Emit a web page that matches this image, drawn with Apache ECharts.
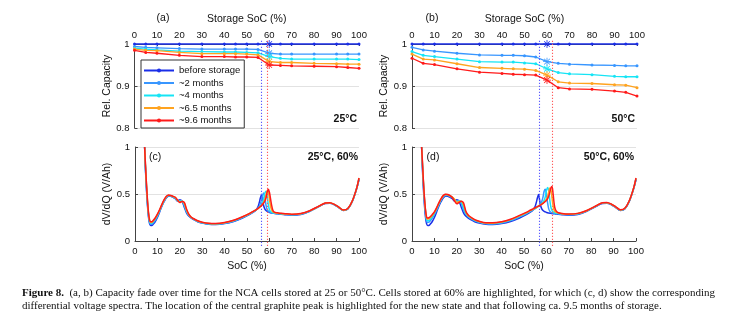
<!DOCTYPE html>
<html><head><meta charset="utf-8">
<script src="https://cdn.jsdelivr.net/npm/echarts@6/dist/echarts.min.js"></script>
<style>html,body{margin:0;padding:0;background:#fff}#c{width:738px;height:332px}</style>
</head><body><div id="c"></div>
<script>
// ---------- data ----------
const seriesNames = ['before storage', '~2 months', '~4 months', '~6.5 months', '~9.6 months'];
const storageSoc = [0, 5, 10, 20, 30, 40, 45, 50, 55, 60, 65, 70, 80, 90, 95, 100];
const highlightSoc = 60;

// (a) 25°C relative capacity
const capA_before = [1, 1, 1, 1, 1, 1, 1, 1, 1, 1, 1, 1, 1, 1, 1, 1];
const capA_2m = [0.994, 0.992, 0.991, 0.989, 0.988, 0.988, 0.988, 0.988, 0.987, 0.978, 0.976, 0.976, 0.976, 0.976, 0.976, 0.976];
const capA_4m = [0.990, 0.988, 0.986, 0.983, 0.982, 0.981, 0.981, 0.980, 0.979, 0.970, 0.966, 0.964, 0.964, 0.964, 0.964, 0.963];
const capA_6m = [0.988, 0.985, 0.984, 0.980, 0.977, 0.977, 0.977, 0.976, 0.974, 0.958, 0.956, 0.956, 0.954, 0.953, 0.952, 0.952];
const capA_9m = [0.985, 0.980, 0.978, 0.973, 0.970, 0.970, 0.969, 0.969, 0.968, 0.950, 0.949, 0.948, 0.947, 0.946, 0.944, 0.942];

// (b) 50°C relative capacity
const capB_before = [1, 1, 1, 1, 1, 1, 1, 1, 1, 1, 1, 1, 1, 1, 1, 1];
const capB_2m = [0.992, 0.986, 0.983, 0.978, 0.974, 0.973, 0.973, 0.972, 0.969, 0.958, 0.954, 0.952, 0.950, 0.949, 0.948, 0.948];
const capB_4m = [0.982, 0.973, 0.970, 0.964, 0.958, 0.957, 0.957, 0.955, 0.953, 0.941, 0.932, 0.929, 0.927, 0.923, 0.922, 0.922];
const capB_6m = [0.976, 0.964, 0.962, 0.953, 0.944, 0.942, 0.941, 0.940, 0.937, 0.926, 0.910, 0.907, 0.906, 0.903, 0.902, 0.896];
const capB_9m = [0.966, 0.954, 0.951, 0.941, 0.933, 0.930, 0.928, 0.927, 0.926, 0.914, 0.896, 0.893, 0.892, 0.888, 0.885, 0.876];

// (c, d) dV/dQ spectra, SoC grid
const socGrid = [4.3, 4.6, 5, 5.5, 6, 6.5, 7, 7.5, 8,
  9, 10, 11, 12, 13, 14, 15, 16, 17, 18, 19, 20, 21, 22, 23, 24, 25, 26,
  28, 30, 33, 36, 40, 44, 48, 51, 53, 54,
  55, 55.5, 56, 56.5, 57, 57.5, 58, 58.5, 59, 59.5, 60, 60.5, 61, 61.5, 62, 62.5, 63, 63.5, 64,
  65, 67, 70, 74, 78, 82, 85, 87, 89, 91, 93, 95, 97, 99, 100];

const dvdq_before = [1.0, 0.8, 0.6, 0.4, 0.26, 0.185, 0.165, 0.165, 0.175,
  0.205, 0.25, 0.31, 0.37, 0.42, 0.46, 0.48, 0.475, 0.465, 0.45, 0.425, 0.44, 0.425, 0.36, 0.3, 0.265, 0.245, 0.23,
  0.205, 0.19, 0.178, 0.176, 0.185, 0.208, 0.245, 0.28, 0.31, 0.33,
  0.37, 0.41, 0.46, 0.495, 0.43, 0.37, 0.34, 0.325, 0.315, 0.31, 0.305, 0.3, 0.298, 0.296, 0.294, 0.292, 0.29, 0.289, 0.288,
  0.285, 0.28, 0.275, 0.283, 0.315, 0.365, 0.4, 0.402, 0.385, 0.355, 0.325, 0.34, 0.42, 0.56, 0.65];

const dvdqC_2m = [1.0, 0.81, 0.62, 0.42, 0.28, 0.2, 0.178, 0.178, 0.188,
  0.218, 0.262, 0.318, 0.375, 0.425, 0.465, 0.483, 0.478, 0.468, 0.455, 0.428, 0.432, 0.428, 0.375, 0.31, 0.272, 0.25, 0.235,
  0.208, 0.193, 0.181, 0.179, 0.188, 0.211, 0.249, 0.284, 0.312, 0.328,
  0.35, 0.37, 0.4, 0.44, 0.49, 0.51, 0.46, 0.38, 0.335, 0.318, 0.31, 0.304, 0.3, 0.298, 0.296, 0.294, 0.292, 0.291, 0.29,
  0.287, 0.282, 0.278, 0.286, 0.317, 0.367, 0.402, 0.404, 0.387, 0.357, 0.327, 0.342, 0.422, 0.562, 0.66];

const dvdqC_4m = [1.0, 0.82, 0.63, 0.43, 0.29, 0.21, 0.188, 0.19, 0.2,
  0.23, 0.272, 0.325, 0.38, 0.43, 0.468, 0.485, 0.48, 0.47, 0.458, 0.43, 0.425, 0.425, 0.39, 0.32, 0.278, 0.252, 0.237,
  0.21, 0.195, 0.184, 0.182, 0.191, 0.215, 0.253, 0.288, 0.315, 0.33,
  0.348, 0.36, 0.375, 0.395, 0.42, 0.46, 0.51, 0.53, 0.48, 0.39, 0.335, 0.315, 0.306, 0.301, 0.298, 0.296, 0.294, 0.293, 0.292,
  0.29, 0.285, 0.28, 0.288, 0.319, 0.368, 0.403, 0.405, 0.388, 0.358, 0.328, 0.343, 0.423, 0.563, 0.665];

const dvdqC_6m = [1.0, 0.84, 0.65, 0.45, 0.3, 0.218, 0.198, 0.198, 0.208,
  0.238, 0.28, 0.33, 0.385, 0.435, 0.472, 0.488, 0.483, 0.473, 0.462, 0.432, 0.415, 0.422, 0.4, 0.33, 0.282, 0.254, 0.239,
  0.213, 0.198, 0.186, 0.184, 0.194, 0.218, 0.256, 0.29, 0.317, 0.331,
  0.347, 0.357, 0.368, 0.38, 0.395, 0.415, 0.445, 0.49, 0.535, 0.53, 0.45, 0.37, 0.33, 0.312, 0.304, 0.3, 0.298, 0.296, 0.295,
  0.292, 0.288, 0.283, 0.29, 0.32, 0.369, 0.404, 0.407, 0.389, 0.359, 0.329, 0.344, 0.424, 0.564, 0.668];

const dvdqC_9m = [1.0, 0.85, 0.66, 0.46, 0.31, 0.225, 0.205, 0.205, 0.215,
  0.245, 0.285, 0.335, 0.39, 0.44, 0.475, 0.49, 0.485, 0.475, 0.465, 0.435, 0.41, 0.42, 0.41, 0.34, 0.285, 0.255, 0.24,
  0.215, 0.2, 0.188, 0.186, 0.196, 0.22, 0.258, 0.292, 0.318, 0.332,
  0.348, 0.357, 0.367, 0.378, 0.39, 0.405, 0.425, 0.46, 0.52, 0.55, 0.52, 0.45, 0.38, 0.33, 0.312, 0.305, 0.302, 0.3, 0.298,
  0.295, 0.29, 0.285, 0.292, 0.322, 0.37, 0.405, 0.408, 0.39, 0.36, 0.33, 0.345, 0.425, 0.565, 0.67];

const dvdqD_2m = [1.0, 0.83, 0.64, 0.44, 0.3, 0.215, 0.198, 0.2, 0.21,
  0.24, 0.28, 0.33, 0.385, 0.435, 0.47, 0.487, 0.483, 0.472, 0.46, 0.435, 0.425, 0.43, 0.4, 0.33, 0.285, 0.258, 0.242,
  0.214, 0.198, 0.184, 0.182, 0.192, 0.217, 0.256, 0.29, 0.316, 0.33,
  0.345, 0.353, 0.362, 0.372, 0.385, 0.4, 0.425, 0.47, 0.53, 0.55, 0.5, 0.41, 0.345, 0.318, 0.306, 0.3, 0.297, 0.295, 0.293,
  0.29, 0.284, 0.28, 0.288, 0.318, 0.368, 0.403, 0.405, 0.388, 0.358, 0.328, 0.343, 0.423, 0.563, 0.66];

const dvdqD_4m = [1.0, 0.85, 0.66, 0.46, 0.32, 0.232, 0.215, 0.217, 0.228,
  0.256, 0.294, 0.34, 0.392, 0.44, 0.475, 0.492, 0.49, 0.478, 0.466, 0.44, 0.415, 0.425, 0.415, 0.355, 0.295, 0.265, 0.248,
  0.22, 0.203, 0.188, 0.186, 0.197, 0.222, 0.262, 0.295, 0.32, 0.333,
  0.347, 0.354, 0.362, 0.37, 0.378, 0.387, 0.398, 0.412, 0.432, 0.47, 0.535, 0.57, 0.54, 0.44, 0.36, 0.325, 0.31, 0.303, 0.299,
  0.295, 0.288, 0.283, 0.29, 0.32, 0.37, 0.405, 0.407, 0.39, 0.36, 0.33, 0.345, 0.425, 0.565, 0.663];

const dvdqD_6m = [1.0, 0.86, 0.67, 0.47, 0.33, 0.245, 0.235, 0.237, 0.245,
  0.27, 0.305, 0.35, 0.4, 0.447, 0.48, 0.495, 0.492, 0.48, 0.468, 0.445, 0.41, 0.42, 0.422, 0.385, 0.31, 0.272, 0.253,
  0.224, 0.206, 0.191, 0.19, 0.201, 0.227, 0.267, 0.3, 0.325, 0.337,
  0.35, 0.357, 0.364, 0.371, 0.378, 0.386, 0.394, 0.403, 0.414, 0.427, 0.445, 0.47, 0.52, 0.565, 0.55, 0.46, 0.37, 0.325, 0.31,
  0.3, 0.291, 0.285, 0.292, 0.322, 0.371, 0.406, 0.408, 0.391, 0.361, 0.331, 0.346, 0.426, 0.566, 0.666];

const dvdqD_9m = [1.0, 0.87, 0.68, 0.48, 0.34, 0.255, 0.245, 0.247, 0.255,
  0.28, 0.31, 0.355, 0.405, 0.452, 0.485, 0.498, 0.494, 0.482, 0.462, 0.425, 0.395, 0.41, 0.422, 0.405, 0.32, 0.28, 0.258,
  0.228, 0.21, 0.194, 0.193, 0.205, 0.232, 0.272, 0.305, 0.33, 0.342,
  0.354, 0.36, 0.366, 0.372, 0.378, 0.385, 0.392, 0.4, 0.41, 0.42, 0.432, 0.448, 0.475, 0.515, 0.565, 0.58, 0.5, 0.39, 0.335,
  0.305, 0.293, 0.287, 0.294, 0.324, 0.372, 0.407, 0.41, 0.393, 0.363, 0.333, 0.348, 0.428, 0.568, 0.67];

// graphite peak markers (SoC %)
const peakNew = 56.6;
const peak25 = 59.3;
const peak50 = 62.5;

// ---------- styling ----------
const colors = ['#1a2ee8', '#3896ff', '#16e4f5', '#ffa31f', '#ff1a1a'];
const FONT = 'Liberation Sans, Arial, sans-serif';
const SERIF = 'Liberation Serif, Times New Roman, serif';
const axisColor = '#444';
const gridColor = '#e2e2e2';
const star = 'path://M9,0h2v20h-2z M0,9h20v2h-20z M2.2,3.6l1.4,-1.4l14.2,14.2l-1.4,1.4z M17.8,3.6l-1.4,-1.4l-14.2,14.2l1.4,1.4z';

const capsA = [capA_before, capA_2m, capA_4m, capA_6m, capA_9m];
const capsB = [capB_before, capB_2m, capB_4m, capB_6m, capB_9m];
const dvC = [dvdq_before, dvdqC_2m, dvdqC_4m, dvdqC_6m, dvdqC_9m];
const dvD = [dvdq_before, dvdqD_2m, dvdqD_4m, dvdqD_6m, dvdqD_9m];

const L = {a: [134.5, 44, 224.5, 84], b: [412, 44, 225, 84], c: [135, 147, 224, 94], d: [412, 147, 224, 94]};
function grid(r) { return {left: r[0], top: r[1], width: r[2], height: r[3], containLabel: false}; }

const grids = [grid(L.a), grid(L.b), grid(L.c), grid(L.d),
  {left: L.a[0], top: 39, width: L.a[2], height: 207}, {left: L.b[0], top: 39, width: L.b[2], height: 207}];

const lbl = {fontFamily: FONT, fontSize: 9.5, color: '#111'};
const nameSt = {fontFamily: FONT, fontSize: 10.5, color: '#111'};

function xTop(gi) {
  return {type: 'value', gridIndex: gi, position: 'top', min: 0, max: 100, interval: 10,
    name: 'Storage SoC (%)', nameLocation: 'middle', nameGap: 19, nameTextStyle: nameSt,
    axisLine: {show: true, lineStyle: {color: axisColor}}, axisTick: {show: true, inside: true, length: 2, lineStyle: {color: axisColor}},
    axisLabel: Object.assign({margin: 4}, lbl), splitLine: {show: false}};
}
function xBottom(gi) {
  return {type: 'value', gridIndex: gi, position: 'bottom', min: 0, max: 100, interval: 10,
    name: 'SoC (%)', nameLocation: 'middle', nameGap: 20, nameTextStyle: nameSt,
    axisLine: {show: true, lineStyle: {color: axisColor}}, axisTick: {show: true, inside: true, length: 3, lineStyle: {color: axisColor}},
    axisLabel: Object.assign({margin: 5}, lbl), splitLine: {show: false}};
}
function yCap(gi) {
  return {type: 'value', gridIndex: gi, min: 0.8, max: 1, interval: 0.1,
    name: 'Rel. Capacity', nameLocation: 'middle', nameGap: 21, nameTextStyle: nameSt,
    axisLine: {show: true, lineStyle: {color: axisColor}}, axisTick: {show: true, inside: true, length: 3, lineStyle: {color: axisColor}},
    axisLabel: Object.assign({margin: 5, formatter: v => (Math.abs(v - 1) < 1e-9 ? '1' : v.toFixed(1))}, lbl),
    splitLine: {show: true, lineStyle: {color: gridColor}}};
}
function yDv(gi) {
  return {type: 'value', gridIndex: gi, min: 0, max: 1, interval: 0.5,
    name: 'dV/dQ (V/Ah)', nameLocation: 'middle', nameGap: 21, nameTextStyle: nameSt,
    axisLine: {show: true, lineStyle: {color: axisColor}}, axisTick: {show: true, inside: true, length: 3, lineStyle: {color: axisColor}},
    axisLabel: Object.assign({margin: 5, formatter: v => (v === 0 ? '0' : v === 1 ? '1' : String(v))}, lbl),
    splitLine: {show: true, lineStyle: {color: gridColor}}};
}
function xOverlay(gi) { return {type: 'value', gridIndex: gi, min: 0, max: 100, show: false}; }
function yOverlay(gi) { return {type: 'value', gridIndex: gi, min: 0, max: 1, show: false}; }

const xAxes = [xTop(0), xTop(1), xBottom(2), xBottom(3), xOverlay(4), xOverlay(5)];
const yAxes = [yCap(0), yCap(1), yDv(2), yDv(3), yOverlay(4), yOverlay(5)];

const series = [];
function capSeries(arrs, axi) {
  arrs.forEach((arr, k) => {
    series.push({
      type: 'line', name: seriesNames[k], xAxisIndex: axi, yAxisIndex: axi, clip: false,
      color: colors[k], symbol: 'circle', symbolSize: 3, showSymbol: true,
      lineStyle: {width: 1.3, color: colors[k]}, itemStyle: {color: colors[k]},
      z: 2 + k,
      data: storageSoc.map((s, i) => s === highlightSoc
        ? {value: [s, arr[i]], symbol: star, symbolSize: 8}
        : [s, arr[i]]),
      animation: false
    });
  });
}
function dvSeries(arrs, axi) {
  arrs.forEach((arr, k) => {
    series.push({
      type: 'line', name: seriesNames[k], xAxisIndex: axi, yAxisIndex: axi,
      color: colors[k], symbol: 'none', showSymbol: false, smooth: 0.3,
      lineStyle: {width: 1.5, color: colors[k]}, z: 2 + k,
      data: socGrid.map((s, i) => [s, arr[i]]), animation: false
    });
  });
}
capSeries(capsA, 0);
capSeries(capsB, 1);
dvSeries(dvC, 2);
dvSeries(dvD, 3);

function vline(axi, pos, col) {
  series.push({
    type: 'line', name: 'peak', xAxisIndex: axi, yAxisIndex: axi, data: [], silent: true, animation: false, z: 10,
    color: col, itemStyle: {color: col},
    markLine: {
      silent: true, symbol: ['none', 'none'], animation: false, label: {show: false},
      lineStyle: {color: col, type: [1.2, 1.8], width: 1.1, opacity: 1},
      emphasis: {disabled: true},
      data: [{xAxis: pos}]
    }
  });
}
vline(4, peakNew, '#5c5cff');
vline(4, peak25, '#ff5c5c');
vline(5, peakNew, '#5c5cff');
vline(5, peak50, '#ff5c5c');

const T = (x, y, text, opts) => Object.assign({type: 'text', x, y, silent: true,
  style: Object.assign({text, fontFamily: FONT, fontSize: 10.5, fill: '#111', align: 'center', verticalAlign: 'middle'}, opts || {})});

const graphics = [
  T(163, 18, '(a)'), T(432, 18, '(b)'),
  T(357, 119, '25°C', {align: 'right', fontWeight: 'bold'}),
  T(635, 119, '50°C', {align: 'right', fontWeight: 'bold'}),
  T(155, 157, '(c)'), T(433, 157, '(d)'),
  T(358, 157, '25°C, 60%', {align: 'right', fontWeight: 'bold'}),
  T(634, 157, '50°C, 60%', {align: 'right', fontWeight: 'bold'}),
  {type: 'text', x: 22, y: 293, silent: true, style: {
    text: '{b|Figure 8.}  (a, b) Capacity fade over time for the NCA cells stored at 25 or 50°C. Cells stored at 60% are highlighted, for which (c, d) show the corresponding',
    fontFamily: SERIF, fontSize: 11, fill: '#111', verticalAlign: 'middle',
    rich: {b: {fontWeight: 'bold', fontFamily: SERIF, fontSize: 11, fill: '#111'}}}},
  {type: 'text', x: 22, y: 306, silent: true, style: {
    text: 'differential voltage spectra. The location of the central graphite peak is highlighted for the new state and that following ca. 9.5 months of storage.',
    fontFamily: SERIF, fontSize: 11, fill: '#111', verticalAlign: 'middle'}}
];

const chart = echarts.init(document.getElementById('c'), null, {renderer: 'canvas'});
chart.setOption({
  animation: false,
  backgroundColor: '#fff',
  grid: grids,
  xAxis: xAxes,
  yAxis: yAxes,
  legend: {
    data: seriesNames, left: 141, top: 60, orient: 'vertical',
    backgroundColor: '#fff', borderColor: '#333', borderWidth: 1,
    padding: [5, 4, 2, 2], itemGap: 1.5, itemWidth: 30, itemHeight: 5,
    textStyle: {fontFamily: FONT, fontSize: 9.5, color: '#111', lineHeight: 11},
    selectedMode: false, z: 20
  },
  series: series,
  graphic: graphics
});
</script>
</body></html>
